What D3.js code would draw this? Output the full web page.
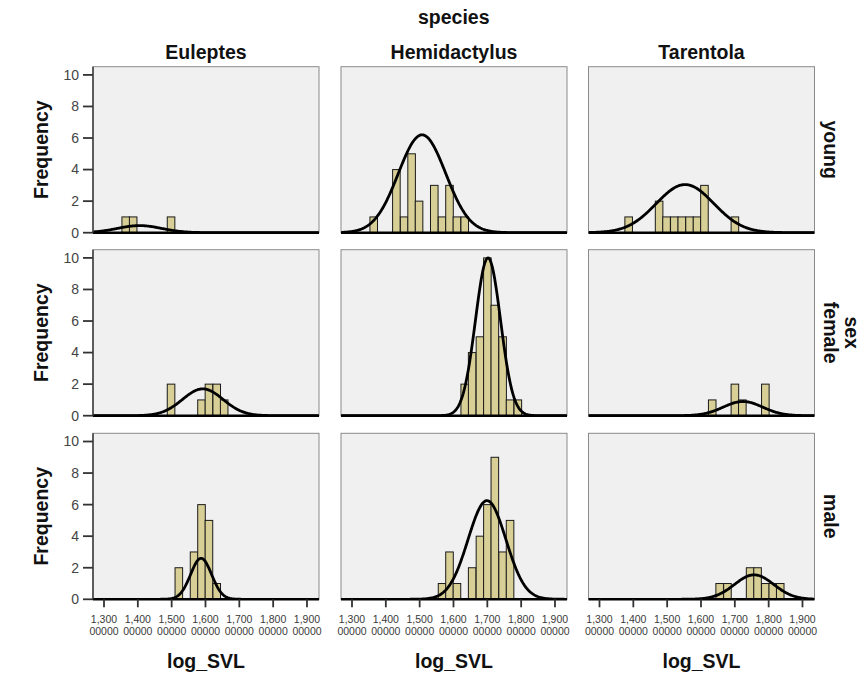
<!DOCTYPE html>
<html><head><meta charset="utf-8">
<script src="https://cdn.jsdelivr.net/npm/d3@7"></script>
<style>body{margin:0;background:#fff;} text{font-family:"Liberation Sans",Arial,Helvetica,sans-serif;}</style>
</head><body>
<script>
// ---------- data ----------
const species = ["Euleptes", "Hemidactylus", "Tarentola"];
const sexes = ["young", "female", "male"];
const binLower = [1.353,1.375,1.398,1.420,1.443,1.465,1.487,1.510,1.532,1.555,1.577,
                  1.599,1.622,1.644,1.667,1.689,1.711,1.734,1.756,1.779,1.801,1.823];
const binWidth = 0.0224;
const countsEuleptesYoung      = [1,1,0,0,0,0,1,0,0,0,0,0,0,0,0,0,0,0,0,0,0,0];
const countsHemidactylusYoung  = [1,0,0,4,1,5,2,0,3,1,3,1,1,0,0,0,0,0,0,0,0,0];
const countsTarentolaYoung     = [0,1,0,0,0,2,1,1,1,1,1,3,0,0,0,1,0,0,0,0,0,0];
const countsEuleptesFemale     = [0,0,0,0,0,0,2,0,0,0,1,2,2,1,0,0,0,0,0,0,0,0];
const countsHemidactylusFemale = [0,0,0,0,0,0,0,0,0,0,0,0,2,4,5,10,7,5,1,1,0,0];
const countsTarentolaFemale    = [0,0,0,0,0,0,0,0,0,0,0,0,1,0,0,2,1,0,0,2,0,0];
const countsEuleptesMale       = [0,0,0,0,0,0,0,2,0,3,6,5,1,0,0,0,0,0,0,0,0,0];
const countsHemidactylusMale   = [0,0,0,0,0,0,0,0,0,1,3,1,0,2,4,6,9,3,5,0,0,0];
const countsTarentolaMale      = [0,0,0,0,0,0,0,0,0,0,0,0,0,1,1,0,0,2,2,1,1,1];
// normal curve parameters (rows: young, female, male; cols: species)
const curveMean = [[1.405,1.507,1.553],[1.592,1.702,1.724],[1.587,1.699,1.757]];
const curveSD   = [[0.065,0.070,0.085],[0.060,0.037,0.058],[0.031,0.056,0.058]];
const curvePeak = [[0.45,6.2,3.05],[1.7,10.0,0.9],[2.6,6.25,1.55]];
const yTicks = [0,2,4,6,8,10];
const xTicks = [1.3,1.4,1.5,1.6,1.7,1.8,1.9];
const xTickLabels = ["1,300","1,400","1,500","1,600","1,700","1,800","1,900"];
const xTickLabels2 = ["00000","00000","00000","00000","00000","00000","00000"];

const countTable = [
  [countsEuleptesYoung, countsHemidactylusYoung, countsTarentolaYoung],
  [countsEuleptesFemale, countsHemidactylusFemale, countsTarentolaFemale],
  [countsEuleptesMale, countsHemidactylusMale, countsTarentolaMale]
];

// ---------- layout ----------
const W = 864, H = 681;
const colX = [93, 341, 588.5];
const rowY = [66.7, 249.7, 433.3];
const pw = 226, ph = 166;

const svg = d3.select("body").append("svg").attr("width", W).attr("height", H);

const x = d3.scaleLinear().domain([1.2675, 1.9355]).range([0, pw]);
const y = d3.scaleLinear().domain([0, 10.52]).range([ph, 0]);

const barFill = "#d8cf96";

svg.append("defs").selectAll("clipPath").data([0]).join("clipPath")
  .attr("id", "pclip").append("rect").attr("width", pw).attr("height", ph);

const normal = (m, s, p) => v => p * Math.exp(-((v - m) * (v - m)) / (2 * s * s));
const samples = d3.range(0, 301).map(i => x.invert(i * pw / 300));

sexes.forEach((sex, r) => {
  species.forEach((sp, c) => {
    const g = svg.append("g").attr("transform", `translate(${colX[c]},${rowY[r]})`);
    g.append("rect").attr("width", pw).attr("height", ph).attr("fill", "#f0f0f0");
    const inner = g.append("g").attr("clip-path", "url(#pclip)");
    const counts = countTable[r][c];
    inner.selectAll("rect.bar")
      .data(binLower.map((b, i) => ({b, n: counts[i]})).filter(d => d.n > 0))
      .join("rect").attr("class", "bar")
      .attr("x", d => x(d.b))
      .attr("width", d => x(d.b + binWidth) - x(d.b))
      .attr("y", d => y(d.n))
      .attr("height", d => y(0) - y(d.n))
      .attr("fill", barFill).attr("stroke", "#1a1a1a").attr("stroke-width", 1);
    const f = normal(curveMean[r][c], curveSD[r][c], curvePeak[r][c]);
    inner.append("path")
      .attr("d", d3.line().x(v => x(v)).y(v => y(f(v)))(samples))
      .attr("fill", "none").attr("stroke", "#000").attr("stroke-width", 2.8);
    g.append("rect").attr("width", pw).attr("height", ph)
      .attr("fill", "none").attr("stroke", "#8a8a8a").attr("stroke-width", 1);
    g.append("line").attr("x1", 0).attr("x2", pw).attr("y1", ph).attr("y2", ph)
      .attr("stroke", "#000").attr("stroke-width", 2.6);
    if (c === 0) {
      g.append("line").attr("x1", 0).attr("x2", 0).attr("y1", 0).attr("y2", ph)
        .attr("stroke", "#333").attr("stroke-width", 1.4);
      const yt = g.append("g").attr("class", "yaxis");
      yt.selectAll("line").data(yTicks).join("line")
        .attr("x1", -10).attr("x2", 0).attr("y1", d => y(d)).attr("y2", d => y(d))
        .attr("stroke", "#333").attr("stroke-width", 1.8);
      yt.selectAll("text").data(yTicks).join("text")
        .attr("x", -14).attr("y", d => y(d)).attr("dy", "0.35em")
        .attr("text-anchor", "end").attr("font-size", 14).attr("fill", "#444")
        .text(d => d);
    }
    if (r === 2) {
      const xt = g.append("g").attr("class", "xaxis");
      xt.selectAll("line").data(xTicks).join("line")
        .attr("x1", d => x(d)).attr("x2", d => x(d)).attr("y1", ph).attr("y2", ph + 8)
        .attr("stroke", "#333").attr("stroke-width", 1.8);
      xt.selectAll("text.l1").data(xTicks).join("text").attr("class", "l1")
        .attr("x", d => x(d)).attr("y", ph + 23.5).attr("text-anchor", "middle")
        .attr("font-size", 10.5).attr("fill", "#3a3a3a").text((d, i) => xTickLabels[i]);
      xt.selectAll("text.l2").data(xTicks).join("text").attr("class", "l2")
        .attr("x", d => x(d)).attr("y", ph + 35.5).attr("text-anchor", "middle")
        .attr("font-size", 10.5).attr("fill", "#3a3a3a").text((d, i) => xTickLabels2[i]);
      svg.append("text").attr("x", colX[c] + pw / 2).attr("y", 668)
        .attr("text-anchor", "middle").attr("font-size", 19.5).attr("font-weight", "bold")
        .attr("fill", "#111").text("log_SVL");
    }
  });
  const cy = rowY[r] + ph / 2;
  svg.append("text").attr("transform", `translate(48,${cy}) rotate(-90)`)
    .attr("text-anchor", "middle").attr("font-size", 19.5).attr("font-weight", "bold")
    .attr("fill", "#111").text("Frequency");
  svg.append("text").attr("transform", `translate(824,${cy}) rotate(90)`)
    .attr("text-anchor", "middle").attr("font-size", 19.5).attr("font-weight", "bold")
    .attr("fill", "#111").text(sex);
});

species.forEach((sp, c) => {
  svg.append("text").attr("x", colX[c] + pw / 2).attr("y", 59)
    .attr("text-anchor", "middle").attr("font-size", 19.5).attr("font-weight", "bold")
    .attr("fill", "#111").text(sp);
});
svg.append("text").attr("x", (colX[0] + colX[2] + pw) / 2).attr("y", 24)
  .attr("text-anchor", "middle").attr("font-size", 19.5).attr("font-weight", "bold")
  .attr("fill", "#111").text("species");
svg.append("text").attr("transform", `translate(845,${rowY[1] + ph / 2}) rotate(90)`)
  .attr("text-anchor", "middle").attr("font-size", 19.5).attr("font-weight", "bold")
  .attr("fill", "#111").text("sex");
</script>
</body></html>
